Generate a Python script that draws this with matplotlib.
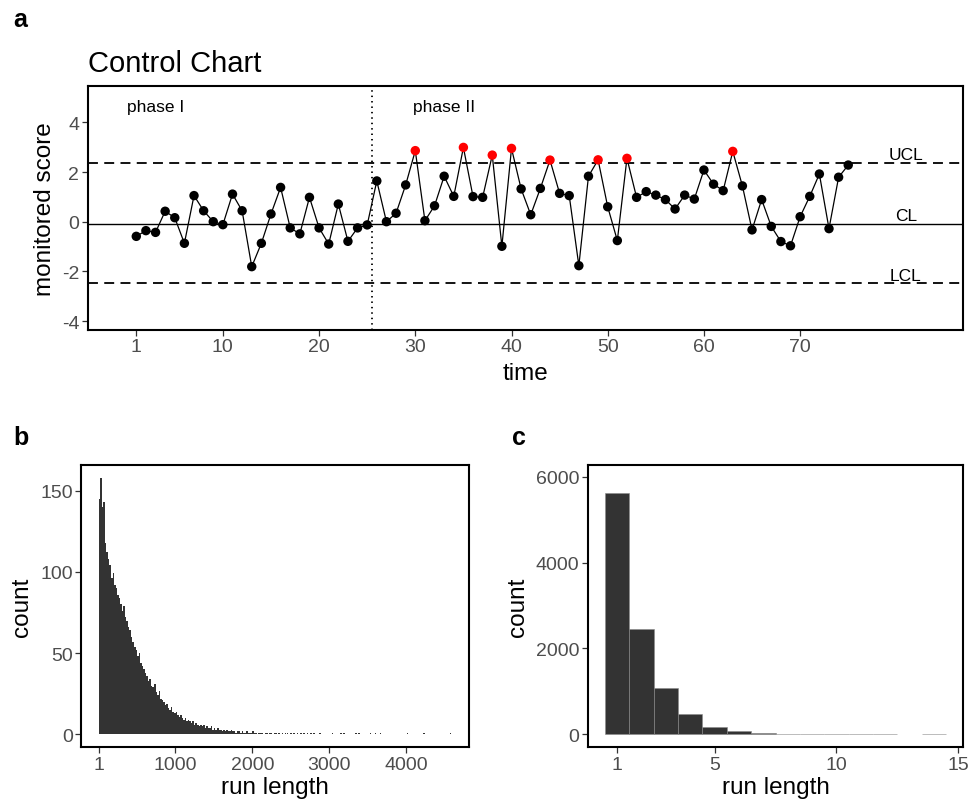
import matplotlib
matplotlib.use("Agg")
import matplotlib.pyplot as plt
import numpy as np

plt.rcParams['font.family'] = ['Liberation Sans', 'DejaVu Sans']

# ---------------- data ----------------
time = list(range(1, 76))
score = [-0.59, -0.36, -0.43, 0.42, 0.16, -0.87, 1.05, 0.44, 0.00, -0.12,
         1.11, 0.44, -1.81, -0.87, 0.31, 1.38, -0.25, -0.49, 0.98, -0.25,
         -0.90, 0.71, -0.79, -0.25, -0.13, 1.64, 0.00, 0.34, 1.48, 2.86,
         0.04, 0.64, 1.83, 1.02, 2.99, 1.01, 0.98, 2.68, -0.99, 2.95,
         1.32, 0.28, 1.34, 2.48, 1.14, 1.05, -1.77, 1.83, 2.49, 0.60,
         -0.76, 2.55, 0.98, 1.21, 1.07, 0.89, 0.51, 1.07, 0.91, 2.08,
         1.51, 1.25, 2.83, 1.44, -0.33, 0.89, -0.19, -0.80, -0.97, 0.20,
         1.02, 1.92, -0.28, 1.79, 2.28]
UCL = 2.37
CL = -0.09
LCL = -2.47
phase_split = 25.5
limit_labels = ["UCL", "CL", "LCL"]
phase_labels = ["phase I", "phase II"]
phase_label_x = [3, 33]

# panel b: run-length histogram (bins of width 20 starting at 1)
rl_binwidth = 20
rl_counts = [145, 158, 140, 143, 118, 112, 108, 104, 96, 99,
             92, 90, 86, 84, 80, 76, 79, 72, 70, 66,
             64, 60, 57, 54, 52, 48, 50, 44, 42, 40,
             38, 36, 33, 34, 30, 29, 31, 26, 24, 27,
             22, 21, 20, 18, 19, 16, 15, 17, 14, 13,
             14, 12, 11, 12, 10, 9, 10, 8, 9, 8,
             7, 8, 6, 7, 6, 5, 6, 5, 6, 4,
             5, 4, 4, 5, 3, 4, 3, 4, 3, 3,
             2, 3, 2, 3, 2, 2, 3, 2, 2, 1,
             2, 2, 1, 2, 1, 1, 2, 1, 1, 1,
             2, 1, 1, 0, 1, 1, 1, 0, 1, 1,
             0, 1, 1, 0, 1, 1, 0, 1, 0, 1,
             0, 1]
rl_tail_positions = [2448, 2491, 2535, 2578, 2621, 2665, 2708, 2752, 2795, 2873,
                     3033, 3142, 3185, 3337, 3380, 3532, 3597, 3662, 4009, 4226, 4573]
rl_tail_counts = [1] * len(rl_tail_positions)

# panel c: run-length histogram (integer run lengths)
rl2_values = list(range(1, 15))
rl2_counts = [5620, 2450, 1080, 460, 180, 86, 31, 14, 7, 3, 2, 1, 0, 1]

# ---------------- figure ----------------
W, H = 971, 804
fig = plt.figure(figsize=(W / 100, H / 100), dpi=100)


def add_ax(left, top, right, bottom):
    return fig.add_axes([left / W, 1 - bottom / H, (right - left) / W, (bottom - top) / H])


def style(ax):
    for s in ax.spines.values():
        s.set_linewidth(1.5)
        s.set_color('black')
    ax.tick_params(axis='both', which='major', length=4, width=0.9, color='#333333',
                   labelsize=14, labelcolor='#4D4D4D', pad=2)


BAR_C = '#333333'

# ---- panel a ----
ax = add_ax(87.7, 87.3, 963.3, 331)
style(ax)
ax.plot(time, score, color='black', lw=0.9, zorder=3)
cols = ['red' if v > UCL else 'black' for v in score]
ax.scatter(time, score, s=46, c=cols, zorder=4, linewidths=0)
ax.axhline(UCL, color='black', lw=1.3, ls=(0, (5.5, 3.5)), zorder=2)
ax.axhline(LCL, color='black', lw=1.3, ls=(0, (5.5, 3.5)), zorder=2)
ax.axhline(CL, color='black', lw=1.0, zorder=2)
ax.axvline(phase_split, color='black', lw=1.3, ls=(0, (0.8, 2.2)), zorder=2)
for lab, yv in zip(limit_labels, [UCL, CL, LCL]):
    ax.text(81, yv + 0.14, lab, ha='center', va='baseline', fontsize=12.5, color='black')
for lab, xv in zip(phase_labels, phase_label_x):
    ax.text(xv, 4.44, lab, ha='center', va='baseline', fontsize=12.5, color='black')
ax.set_xlim(-4.05, 86.96)
ax.set_ylim(-4.36, 5.45)
ax.set_xticks([1, 10, 20, 30, 40, 50, 60, 70])
ax.set_yticks([-4, -2, 0, 2, 4])
ax.set_yticklabels(['-4', '-2', '0', '2', '4'])

fig.text(87.7 / W, 1 - 71.7 / H, 'Control Chart', fontsize=21, ha='left', va='baseline')
fig.text(45 / W, 1 - 209 / H, 'monitored score', fontsize=17.5, rotation=90, ha='center', va='center')
fig.text(525.5 / W, 1 - 374 / H, 'time', fontsize=17.5, ha='center', va='center')
fig.text(13 / W, 1 - 26.7 / H, 'a', fontsize=18, fontweight='bold', ha='left', va='baseline')

# ---- panel b ----
axb = add_ax(81, 465.7, 469.3, 748.3)
style(axb)
edges = [1 + rl_binwidth * i for i in range(len(rl_counts))]
axb.bar(edges, rl_counts, width=rl_binwidth, align='edge', color=BAR_C, linewidth=0)
axb.bar(rl_tail_positions, rl_tail_counts, width=rl_binwidth, align='edge', color=BAR_C, linewidth=0)
axb.set_xlim(-229, 4825)
axb.set_ylim(-7.9, 165.9)
axb.set_xticks([1, 1000, 2000, 3000, 4000])
axb.set_yticks([0, 50, 100, 150])
fig.text(21.7 / W, 1 - 607 / H, 'count', fontsize=17.5, rotation=90, ha='center', va='center')
fig.text(275 / W, 1 - 788 / H, 'run length', fontsize=17.5, ha='center', va='center')
fig.text(13 / W, 1 - 445 / H, 'b', fontsize=18, fontweight='bold', ha='left', va='baseline')

# ---- panel c ----
axc = add_ax(587.7, 465.7, 963.3, 748.3)
style(axc)
edge_cols = ['#8a8a8a' if c > 0 else 'none' for c in rl2_counts]
axc.bar(rl2_values, rl2_counts, width=1.0, color=BAR_C, edgecolor=edge_cols, linewidth=0.4)
axc.set_xlim(-0.2, 15.2)
axc.set_ylim(-305, 6285)
axc.set_xticks([1, 5, 10, 15])
axc.set_yticks([0, 2000, 4000, 6000])
fig.text(518 / W, 1 - 607 / H, 'count', fontsize=17.5, rotation=90, ha='center', va='center')
fig.text(775.5 / W, 1 - 788 / H, 'run length', fontsize=17.5, ha='center', va='center')
fig.text(512 / W, 1 - 445 / H, 'c', fontsize=18, fontweight='bold', ha='left', va='baseline')

fig.savefig('out.png', dpi=100, facecolor='white')
